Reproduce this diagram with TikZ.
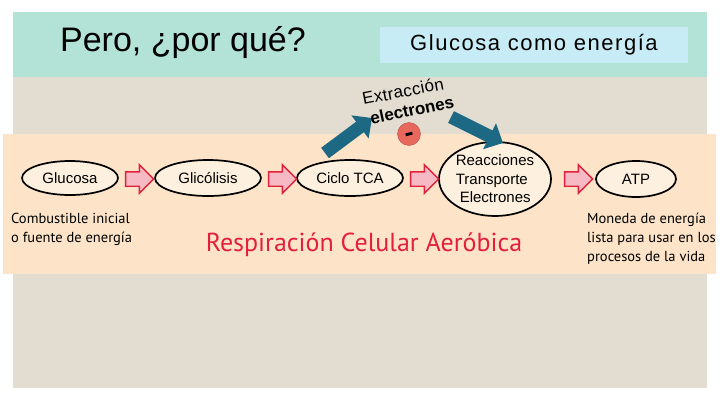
\documentclass[tikz,border=0pt]{standalone}
\usepackage{fontspec}
\setmainfont{Liberation Sans}
\newfontfamily\notefont{PT Sans}
\usetikzlibrary{arrows.meta, positioning, shapes.geometric, shapes.arrows}
\definecolor{slidegrey}{HTML}{E3DDD1}
\definecolor{titleteal}{HTML}{B3E3D6}
\definecolor{boxblue}{HTML}{C8ECF5}
\definecolor{bandpeach}{HTML}{FDE4C8}
\definecolor{ovalfill}{HTML}{FEF0DE}
\definecolor{arrowpink}{HTML}{F7BAC4}
\definecolor{respred}{HTML}{E2203C}
\definecolor{darkteal}{HTML}{1D6983}
\definecolor{electronred}{HTML}{E8695C}

\begin{document}
\begin{tikzpicture}[x=1pt, y=-1pt,
    stage/.style={ellipse, draw, line width=1.7pt, fill=ovalfill, inner sep=0pt,
        font=\fontsize{15}{18.5}\selectfont},
    flowarrow/.style={single arrow, draw=respred, fill=arrowpink, line width=1.4pt,
        inner xsep=0pt, inner ysep=6.5pt, minimum height=28pt, single arrow head extend=7pt},
    pushe/.style={darkteal, line width=13pt, -{Triangle[length=15pt, width=28pt]}},
    tilted/.style={inner sep=0pt, font={\fontsize{17}{20}\selectfont#1}},
    note/.style={anchor=north west, align=left, inner sep=0pt,
        font=\notefont\fontsize{14.5}{19}\selectfont}]
			\useasboundingbox (0,0) rectangle (720,405);
			% Slide
			\fill[slidegrey] (13,12) rectangle (707,388);
			\fill[titleteal] (13,12) rectangle (707,77);
			\fill[bandpeach] (3,134) rectangle (716,274);
			
			\node[font=\fontsize{34}{38}\selectfont] (title) at (183,43) {Pero, ¿por qué?};
			\node[fill=boxblue, minimum width=308pt, minimum height=36pt,
				font=\fontsize{22}{25}\selectfont\addfontfeature{LetterSpace=7}] (topic) at (534,45) {Glucosa como energía};
			
			% Stages
			\node[stage, minimum width=96pt, minimum height=34pt] (glucosa) at (70,178) {Glucosa};
			\node[stage, minimum width=106pt, minimum height=36pt] (glicolisis) at (208,178) {Glicólisis};
			\node[stage, minimum width=106pt, minimum height=36pt] (ciclo) at (350,178) {Ciclo TCA};
			\node[stage, minimum width=112pt, minimum height=74pt, align=left] (reacciones) at (495,179)
				{Reacciones\\Transporte\\\hspace{4pt}Electrones};
			\node[stage, minimum width=80pt, minimum height=36pt] (atp) at (636,179) {ATP};
			
			% Flow arrows
			\foreach \name/\xpos in {a1/136, a2/279, a3/421, a4/575}
				\node[flowarrow] (\name) at (\xpos,179) {};
			
			% Electrons
			\coordinate (e1s) at (325,153);
			\coordinate (e1t) at (372,118);
			\coordinate (e2s) at (451,117);
			\coordinate (e2t) at (503,143);
			\draw[pushe] (e1s) -- (e1t);
			\draw[pushe] (e2s) -- (e2t);
			\node[circle, fill=electronred, draw=electronred!75!black, minimum size=23pt, inner sep=0pt]
				(electron) at (409,134) {\rotatebox{15}{\rule{7pt}{2.8pt}}};
			\node[tilted={\addfontfeature{LetterSpace=2}}, rotate=11] (extr) at (403,91) {Extracción};
			\node[tilted=\bfseries, rotate=12] (elec) at (412,110) {electrones};
			
			% Notes
			\node[note] (fuel) at (11,213) {Combustible inicial\\o fuente de energía};
			\node[note] (coin) at (587,213) {Moneda de energía\\lista para usar en los\\procesos de la vida};
			\node[font=\notefont\fontsize{26}{30}\selectfont, text=respred] (resp) at (364,245)
				{Respiración Celular Aeróbica};
		\end{tikzpicture}
\end{document}
